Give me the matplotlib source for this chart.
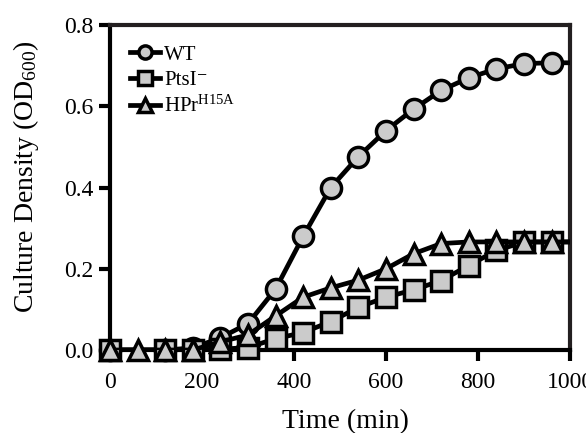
import matplotlib
matplotlib.use('Agg')
import matplotlib.pyplot as plt

plt.rcParams['font.family'] = ['Liberation Serif', 'DejaVu Serif']
plt.rcParams['mathtext.fontset'] = 'custom'
plt.rcParams['mathtext.rm'] = 'Liberation Serif'
plt.rcParams['mathtext.it'] = 'Liberation Serif:italic'

# growth data
wt_time = [0, 120, 180, 240, 300, 360, 420, 480, 540, 600, 660, 720, 780, 840, 900, 960]
wt_od = [0.0, 0.0, 0.005, 0.03, 0.065, 0.15, 0.28, 0.40, 0.476, 0.54, 0.593, 0.639, 0.67, 0.692, 0.705, 0.707]

ptsi_time = [0, 120, 180, 240, 300, 360, 420, 480, 540, 600, 660, 720, 780, 840, 900, 960]
ptsi_od = [0.0, 0.0, 0.0, 0.002, 0.006, 0.028, 0.043, 0.07, 0.105, 0.13, 0.148, 0.171, 0.208, 0.245, 0.266, 0.266]

hpr_time = [0, 60, 120, 180, 240, 300, 360, 420, 480, 540, 600, 660, 720, 780, 840, 900, 960]
hpr_od = [0.0, 0.0, 0.0, 0.0, 0.02, 0.037, 0.084, 0.13, 0.153, 0.172, 0.2, 0.237, 0.262, 0.266, 0.266, 0.266, 0.266]

x_ticks = [0, 200, 400, 600, 800, 1000]
y_ticks = [0.0, 0.2, 0.4, 0.6, 0.8]

fill = '#cbcbcb'
dark = '#231f20'

fig = plt.figure(figsize=(5.86, 4.33), dpi=100)
ax = fig.add_axes([110 / 586, 83 / 433, 460 / 586, 325 / 433])

series = [
    (wt_time, wt_od, 'o', 'WT', 14.5),
    (ptsi_time, ptsi_od, 's', 'PtsI\u207b', 14),
    (hpr_time, hpr_od, '^', r'HPr$^{\mathrm{H15A}}$', 14),
]

for z, (t, od, m, lab, ms) in enumerate(series):
    # line runs on to the right spine at the plateau value
    ax.plot(t + [1000], od + [od[-1]], color='black', lw=3.4, zorder=3 + z * 2,
            solid_capstyle='butt')
    ax.plot(t, od, ls='none', marker=m, ms=ms, mfc=fill, mec='black', mew=2.5,
            clip_on=False, zorder=4 + z * 2)
    # legend proxy
    ax.plot([], [], color='black', lw=3.4, marker=m, ms=9.5, mfc=fill, mec='black',
            mew=2.5, label=lab)

ax.set_xlim(0, 1000)
ax.set_ylim(0, 0.8)
ax.set_xticks(x_ticks)
ax.set_yticks(y_ticks)
ax.set_yticklabels(['%.1f' % v for v in y_ticks])

for side in ['left', 'bottom']:
    ax.spines[side].set_linewidth(3)
    ax.spines[side].set_color('black')
for side in ['top', 'right']:
    ax.spines[side].set_linewidth(3)
    ax.spines[side].set_color(dark)

ax.tick_params(axis='both', direction='out', length=8, width=3, labelsize=17,
               colors='black')
ax.tick_params(axis='x', pad=8)
ax.tick_params(axis='y', pad=4)

ax.set_xlabel('Time (min)', fontsize=20)
ax.set_ylabel('Culture Density (OD$_{600}$)', fontsize=20)
ax.xaxis.set_label_coords(0.511, -0.182)
ax.yaxis.set_label_coords(-0.15, 0.535)

ax.legend(loc='upper left', bbox_to_anchor=(0.004, 0.993), frameon=False, fontsize=15,
          handlelength=1.45, handletextpad=0.2, labelspacing=0.28, borderaxespad=0.45)

fig.savefig('out.png', dpi=100)
